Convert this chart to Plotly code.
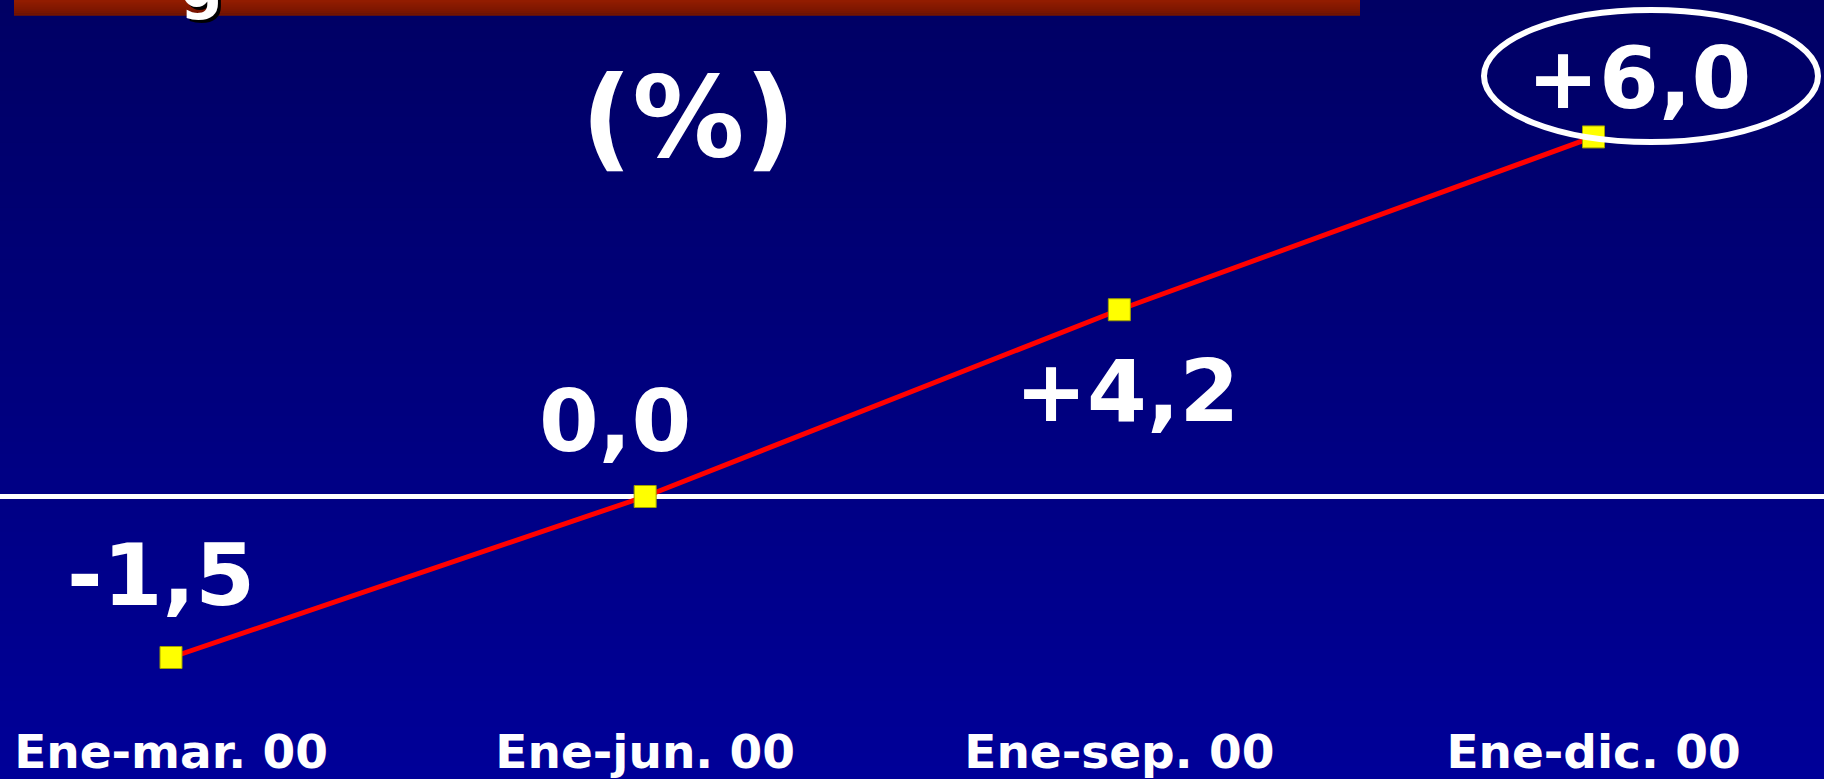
import plotly.graph_objects as go

# ---- data ----
periods = ["Ene-mar. 00", "Ene-jun. 00", "Ene-sep. 00", "Ene-dic. 00"]
value_labels = ["-1,5", "0,0", "+4,2", "+6,0"]
# vertical level at which each point is drawn (the original slide is not to scale)
plot_levels = [-1.5, 0.0, 1.74, 3.35]
unit_label = "(%)"

W, H = 1824, 779
MB = 60
PH = H - MB
FONT = "DejaVu Sans"

fig = go.Figure()

fig.add_trace(go.Scatter(
    x=list(range(len(periods))), y=plot_levels, mode="lines+markers",
    line=dict(color="#ff0000", width=5),
    marker=dict(symbol="square", size=22, color="#ffff00",
                line=dict(color="#a0a000", width=1)),
    hoverinfo="skip", showlegend=False, cliponaxis=False,
))

# background gradient (top darker navy -> lighter navy)
shapes = []
n = 60
top = (0, 0, 100)
bot = (0, 0, 152)
band = (H / PH) / n
for i in range(n):
    t = i / (n - 1)
    c = tuple(round(top[k] + (bot[k] - top[k]) * t) for k in range(3))
    y1 = 1 - i * band
    y0 = y1 - band - 0.002
    shapes.append(dict(type="rect", xref="paper", yref="paper", x0=0, x1=1,
                       y0=y0, y1=y1, layer="below", line=dict(width=0),
                       fillcolor="rgb(%d,%d,%d)" % c))
# title banner remnant at the top
nb = 8
for i in range(nb):
    t = i / (nb - 1)
    c = (round(146 - 30 * t), round(28 - 8 * t), 0)
    y1 = 1 - i * (15 / PH) / nb
    y0 = y1 - (15 / PH) / nb - 0.001
    shapes.append(dict(type="rect", xref="paper", yref="paper",
                       x0=14 / W, x1=1360 / W, y0=y0, y1=y1, layer="below",
                       line=dict(width=0), fillcolor="rgb(%d,%d,%d)" % c))
# ellipse around the last value
shapes.append(dict(type="circle", xref="paper", yref="paper",
                   x0=1484 / W, x1=1818 / W, y0=1 - 142 / PH, y1=1 - 10 / PH,
                   line=dict(color="white", width=6), layer="above"))

annotations = []
shifts = [(-10, 83), (-30, 76), (8, -81), (45, 59)]
for i, (lab, lev) in enumerate(zip(value_labels, plot_levels)):
    dx, dy = shifts[i]
    annotations.append(dict(x=i, y=lev, xref="x", yref="y", text=lab,
                            showarrow=False, xshift=dx, yshift=dy,
                            xanchor="center", yanchor="middle",
                            font=dict(family=FONT, size=86, color="white", weight="bold")))
annotations.append(dict(x=688 / W, y=1 - 117 / PH, xref="paper", yref="paper",
                        text=unit_label, showarrow=False, xanchor="center", yanchor="middle",
                        font=dict(family=FONT, size=112, color="white", weight="bold")))
annotations.append(dict(x=201 / W, y=1 + 14 / PH, xref="paper", yref="paper",
                        text="g", showarrow=False, xanchor="center", yanchor="middle",
                        font=dict(family=FONT, size=60, color="white", weight="bold",
                                  shadow="3px 3px 0px black")))

px_per_unit = (657.5 - 496.5) / 1.5
ytop = 496.5 / px_per_unit
ybot = -(PH - 496.5) / px_per_unit
spacing = (1593.5 - 171) / 3

fig.update_layout(
    width=W, height=H,
    margin=dict(l=0, r=0, t=0, b=MB, pad=0, autoexpand=False),
    paper_bgcolor="#000090", plot_bgcolor="rgba(0,0,0,0)",
    shapes=shapes, annotations=annotations,
    xaxis=dict(range=[-171 / spacing, (W - 171) / spacing], automargin=False,
               tickmode="array", tickvals=list(range(len(periods))), ticktext=periods,
               showgrid=False, zeroline=False, showline=False, ticks="",
               ticklabelstandoff=1,
               tickfont=dict(family=FONT, size=47, color="white", weight="bold")),
    yaxis=dict(range=[ybot, ytop], automargin=False, showgrid=False,
               showticklabels=False, ticks="",
               showline=False, zeroline=True, zerolinecolor="white", zerolinewidth=5),
)

fig.write_html("out.html", config={"displayModeBar": False},
               post_script="document.body.style.margin='0';document.body.style.overflow='hidden';")
